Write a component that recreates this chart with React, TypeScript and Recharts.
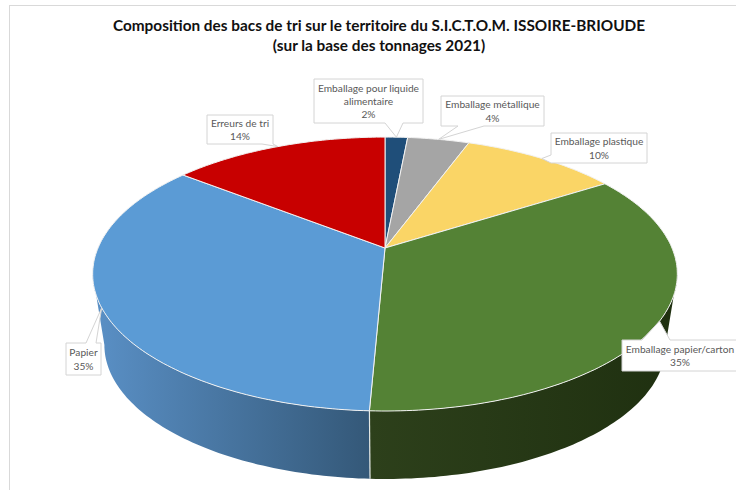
import { Pie, PieChart } from "recharts";

const categories = [
  "Emballage pour liquide alimentaire",
  "Emballage métallique",
  "Emballage plastique",
  "Emballage papier/carton",
  "Papier",
  "Erreurs de tri",
];
const shares = [1.5, 4.1, 10.4, 34.7, 34.9, 14.4];
const labelLines = [
  ["Emballage pour liquide", "alimentaire"],
  ["Emballage métallique"],
  ["Emballage plastique"],
  ["Emballage papier/carton"],
  ["Papier"],
  ["Erreurs de tri"],
];
const topColors = ["#1f4e79", "#a5a5a5", "#fad566", "#548235", "#5b9bd5", "#c80000"];
const wallColors = [
  ["#122e48", "#122e48"],
  ["#606060", "#606060"],
  ["#97803c", "#97803c"],
  ["#2d401b", "#1f3010"],
  ["#5a90c6", "#345878"],
  ["#780000", "#780000"],
];

// callout boxes, pointer base sits on one side of the box
const callouts = [
  { x: 314, y: 79, w: 109, h: 44, side: "bottom", base: [385, 403] },
  { x: 441, y: 96, w: 103, h: 30, side: "bottom", base: [458, 484] },
  { x: 551, y: 133, w: 96, h: 30, side: "left", base: [155, 163] },
  { x: 622, y: 340, w: 120, h: 31, side: "top", base: [642, 670] },
  { x: 66, y: 343, w: 35, h: 32, side: "top", base: [86, 96] },
  { x: 207, y: 115, w: 66, h: 29, side: "bottom", base: [262, 273] },
];

const WIDTH = 736;
const HEIGHT = 490;
const TILT = 0.46;
const PERSPECTIVE = -0.19;
const WALL_DROP = 71;
const WALL_NARROW = 0.96;
const RY_NARROW = 0.978;
// silhouette of the tilted disc, degrees clockwise from the top
const FRONT_START = 101;
const FRONT_END = 259;

const total = shares.reduce((sum, v) => sum + v, 0);
const data = categories.map((name, i) => ({ name, value: shares[i], fill: topColors[i] }));

// clockwise degrees from the top -> rim point of the tilted disc
function rimPoint(cx: number, cy: number, r: number, deg: number) {
  const rad = (deg * Math.PI) / 180;
  const u = Math.sin(rad);
  const v = -Math.cos(rad);
  const den = 1 + PERSPECTIVE * v;
  return { x: cx + (r * u) / den, y: cy + (r * TILT * v) / den };
}

function rimPath(cx: number, cy: number, r: number, from: number, to: number) {
  const pts = [];
  const steps = Math.max(2, Math.ceil(to - from));
  for (let i = 0; i <= steps; i++) {
    pts.push(rimPoint(cx, cy, r, from + ((to - from) * i) / steps));
  }
  return pts;
}

function toD(pts: Array<{ x: number; y: number }>) {
  return pts.map((p, i) => `${i ? "L" : "M"}${p.x.toFixed(1)},${p.y.toFixed(1)}`).join(" ") + " Z";
}

function Slice3D(props: any) {
  const { cx, cy, outerRadius, startAngle, endAngle, fill, index } = props;
  const from = 90 - startAngle;
  const to = 90 - endAngle;
  const top = [{ x: cx, y: cy }, ...rimPath(cx, cy, outerRadius, from, to)];
  const wallFrom = Math.max(from, FRONT_START);
  const wallTo = Math.min(to, FRONT_END);
  const hasWall = wallTo > wallFrom;
  let wallD = "";
  if (hasWall) {
    const upper = rimPath(cx, cy, outerRadius, wallFrom, wallTo);
    // centre of the rim ellipse sits below the hub because of the perspective
    const midY = (rimPoint(cx, cy, outerRadius, 0).y + rimPoint(cx, cy, outerRadius, 180).y) / 2;
    const lower = upper
      .map((p) => ({
        x: cx + (p.x - cx) * WALL_NARROW,
        y: midY + WALL_DROP + (p.y - midY) * RY_NARROW,
      }))
      .reverse();
    wallD = toD([...upper, ...lower]);
  }
  const gradId = `wall-${index}`;
  return (
    <g>
      {hasWall ? (
        <>
          <defs>
            <linearGradient id={gradId} x1="0" y1="0" x2="1" y2="0">
              <stop offset="0%" stopColor={wallColors[index][0]} />
              <stop offset="100%" stopColor={wallColors[index][1]} />
            </linearGradient>
          </defs>
          <path d={wallD} fill={`url(#${gradId})`} />
        </>
      ) : null}
      <path d={toD(top)} fill={fill} stroke="#f2f2f2" strokeWidth={1} strokeLinejoin="round" />
    </g>
  );
}

// white seam between the front walls, drawn at the boundaries of the visible wall slices
function Seam({ cx, cy, outerRadius, deg }: { cx: number; cy: number; outerRadius: number; deg: number }) {
  const p = rimPoint(cx, cy, outerRadius, deg);
  const midY = (rimPoint(cx, cy, outerRadius, 0).y + rimPoint(cx, cy, outerRadius, 180).y) / 2;
  return (
    <line
      x1={p.x}
      y1={p.y}
      x2={cx + (p.x - cx) * WALL_NARROW}
      y2={midY + WALL_DROP + (p.y - midY) * RY_NARROW}
      stroke="#e4e8e4"
      strokeWidth={1.2}
    />
  );
}

function calloutPath(box: (typeof callouts)[number], tip: { x: number; y: number }) {
  const { x, y, w, h, side, base } = box;
  const r = x + w;
  const b = y + h;
  const pts: Array<{ x: number; y: number }> = [{ x, y }];
  if (side === "top") pts.push({ x: base[0], y }, tip, { x: base[1], y });
  pts.push({ x: r, y }, { x: r, y: b });
  if (side === "bottom") pts.push({ x: base[1], y: b }, tip, { x: base[0], y: b });
  pts.push({ x, y: b });
  if (side === "left") pts.push({ x, y: base[1] }, tip, { x, y: base[0] });
  return toD(pts);
}

function Callout(props: any) {
  const { cx, cy, outerRadius, midAngle, endAngle, index } = props;
  const box = callouts[index];
  const tip = rimPoint(cx, cy, outerRadius, 90 - midAngle);
  const lines = [...labelLines[index], `${Math.round((shares[index] / total) * 100)}%`];
  const lineHeight = 13.3;
  const firstY = box.y + box.h / 2 - ((lines.length - 1) * lineHeight) / 2;
  const textX = Math.min(box.x + box.w / 2, 680);
  const seamDeg = 90 - endAngle;
  return (
    <g>
      {seamDeg > FRONT_START && seamDeg < FRONT_END ? (
        <Seam cx={cx} cy={cy} outerRadius={outerRadius} deg={seamDeg} />
      ) : null}
      <path d={calloutPath(box, tip)} fill="#ffffff" stroke="#d4d4d4" strokeWidth={1} />
      <text
        x={textX}
        textAnchor="middle"
        fontFamily="Lato, sans-serif"
        fontSize={10.2}
        fill="#595959"
      >
        {lines.map((line, i) => (
          <tspan key={i} x={textX} y={firstY + i * lineHeight} dominantBaseline="central">
            {line}
          </tspan>
        ))}
      </text>
    </g>
  );
}

export default function App() {
  return (
    <div style={{ position: "absolute", left: 0, top: 0, width: WIDTH, height: HEIGHT, background: "#fff", overflow: "hidden" }}>
      <div
        style={{
          position: "absolute",
          left: 9,
          top: 5,
          right: 0,
          bottom: 0,
          borderLeft: "1px solid #d9d9d9",
          borderTop: "1px solid #d9d9d9",
        }}
      />
      <div
        style={{
          position: "absolute",
          left: 0,
          top: 15,
          width: 758,
          textAlign: "center",
          fontFamily: "Lato, sans-serif",
          fontWeight: 700,
          fontSize: 15.35,
          lineHeight: "20px",
          color: "#111",
        }}
      >
        Composition des bacs de tri sur le territoire du S.I.C.T.O.M. ISSOIRE-BRIOUDE
        <br />
        (sur la base des tonnages 2021)
      </div>
      <div style={{ position: "absolute", left: 0, top: 0 }}>
        <PieChart width={WIDTH} height={HEIGHT} margin={{ top: 0, right: 0, bottom: 0, left: 0 }}>
          <Pie
            data={data}
            dataKey="value"
            nameKey="name"
            cx={385}
            cy={248}
            outerRadius={287}
            startAngle={90}
            endAngle={-270}
            shape={Slice3D}
            label={Callout}
            labelLine={false}
            isAnimationActive={false}
          />
        </PieChart>
      </div>
    </div>
  );
}
